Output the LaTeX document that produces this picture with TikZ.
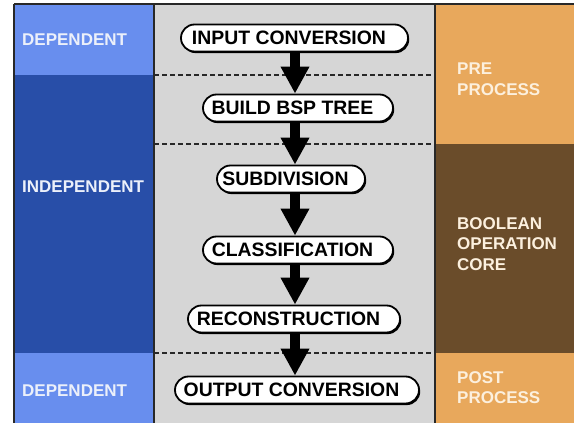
\documentclass[tikz,border=0pt]{standalone}
\usepackage{fontspec}
\setmainfont{Liberation Sans}
\usetikzlibrary{arrows.meta}

\definecolor{lightblue}{RGB}{104,142,238}
\definecolor{darkblue}{RGB}{40,78,168}
\definecolor{panelgray}{RGB}{214,214,214}
\definecolor{paleorange}{RGB}{232,168,92}
\definecolor{darkbrown}{RGB}{106,76,42}
\definecolor{labelwhite}{RGB}{236,240,250}
\definecolor{labelcream}{RGB}{252,240,222}
\definecolor{framegray}{RGB}{40,40,40}

\tikzset{
  stage/.style={draw=black, line width=1.8pt, fill=white, rounded corners=13.5pt,
    minimum height=27pt, inner sep=0pt, font=\fontsize{19.4}{20}\selectfont\bfseries,
    text=black},
  pillshadow/.style={fill=black, rounded corners=13.5pt},
  sidelabel/.style={anchor=west, inner sep=0pt, font=\fontsize{17}{20.7}\selectfont\bfseries,
    align=left},
  flow/.style={line width=10pt, draw=black,
    -{Triangle[width=27pt,length=27pt]}},
  phaseline/.style={draw=framegray, line width=1.1pt, dash pattern=on 5pt off 3pt},
}

% draw a stage pill with a small drop shadow towards the lower right;
% the trailing kern sets the label a little left of the pill centre
\newcommand{\stagepill}[5]{%
  \fill[pillshadow] (#1-#3/2+1.2,#2-13.5+1.6) rectangle (#1+#3/2+1.2,#2+13.5+1.6);
  \node[stage, minimum width=#3 pt] (#4) at (#1,#2) {#5\kern11pt};
}

\begin{document}
\begin{tikzpicture}[x=1pt,y=-1pt]
\useasboundingbox (0,0) rectangle (574,423);

% column backgrounds
\fill[panelgray] (154,4) rectangle (435,423);
\fill[lightblue] (14,4) rectangle (154,75);
\fill[darkblue] (14,75) rectangle (154,353);
\fill[lightblue] (14,353) rectangle (154,423);
\fill[paleorange] (435,4) rectangle (574,144);
\fill[darkbrown] (435,144) rectangle (574,353);
\fill[paleorange] (435,353) rectangle (574,423);

% phase separators
\draw[phaseline] (154,75) -- (435,75);
\draw[phaseline] (154,144) -- (435,144);
\draw[phaseline] (154,353) -- (435,353);

% frame
\draw[framegray, line width=1.2pt] (14,4) -- (574,4);
\draw[framegray, line width=1.2pt] (14,4) -- (14,423);
\draw[framegray, line width=1.2pt] (154,4) -- (154,423);
\draw[framegray, line width=1.2pt] (435,4) -- (435,423);

% pipeline stages
\stagepill{294.5}{38}{227}{inconv}{INPUT CONVERSION}
\stagepill{298}{108}{190}{bsp}{BUILD BSP TREE}
\stagepill{291}{179}{148}{subdiv}{SUBDIVISION}
\stagepill{298}{250}{190}{classif}{CLASSIFICATION}
\stagepill{294}{319}{212}{recon}{RECONSTRUCTION}
\stagepill{297}{390}{244}{outconv}{OUTPUT CONVERSION}

% flow arrows along a common vertical spine
\coordinate (spine) at (295,0);
\draw[flow] ([yshift=-1pt]inconv.south -| spine) -- (bsp.north -| spine);
\draw[flow] ([yshift=-1pt]bsp.south -| spine) -- (subdiv.north -| spine);
\draw[flow] ([yshift=-1pt]subdiv.south -| spine) -- (classif.north -| spine);
\draw[flow] ([yshift=-1pt]classif.south -| spine) -- (recon.north -| spine);
\draw[flow] ([yshift=-1pt]recon.south -| spine) -- (outconv.north -| spine);

% left column labels
\node[sidelabel, text=labelwhite] (depTop) at (22,39.5) {DEPENDENT};
\node[sidelabel, text=labelwhite] (indep) at (22,187) {INDEPENDENT};
\node[sidelabel, text=labelwhite] (depBot) at (22,391) {DEPENDENT};

% right column labels
\node[sidelabel, text=labelcream] (pre) at (457,79) {PRE\\PROCESS};
\node[sidelabel, text=labelcream] (core) at (457,244) {BOOLEAN\\OPERATION\\CORE};
\node[sidelabel, text=labelcream] (post) at (457,387.5) {POST\\PROCESS};
\end{tikzpicture}
\end{document}
